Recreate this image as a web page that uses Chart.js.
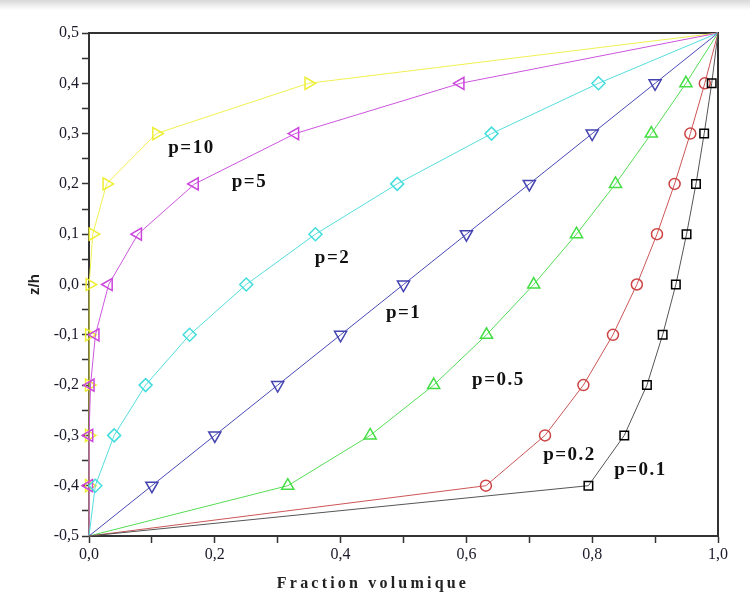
<!DOCTYPE html>
<html>
<head>
<meta charset="utf-8">
<script src="https://cdn.jsdelivr.net/npm/chart.js@4/dist/chart.umd.min.js"></script>
<style>
  body { margin: 0; background: #fff; }
  #wrap { position: relative; width: 750px; height: 610px; }
  #shade { position: absolute; left: 0; top: 0; width: 750px; height: 10px;
           background: linear-gradient(#d8d8d8, #ffffff); }
</style>
</head>
<body>
<div id="wrap">
  <div id="shade"></div>
  <canvas id="myChart" width="750" height="610"></canvas>
</div>
<script>
// Données : z/h et fraction volumique pour chaque p
const zh = [-0.5, -0.4, -0.3, -0.2, -0.1, 0.0, 0.1, 0.2, 0.3, 0.4, 0.5];
const v01 = [0, 0.794, 0.851, 0.887, 0.912, 0.933, 0.950, 0.965, 0.978, 0.990, 1];
const v02 = [0, 0.631, 0.725, 0.786, 0.833, 0.871, 0.903, 0.931, 0.956, 0.979, 1];
const v05 = [0, 0.316, 0.447, 0.548, 0.632, 0.707, 0.775, 0.837, 0.894, 0.949, 1];
const v1  = [0, 0.1, 0.2, 0.3, 0.4, 0.5, 0.6, 0.7, 0.8, 0.9, 1];
const v2  = [0, 0.01, 0.04, 0.09, 0.16, 0.25, 0.36, 0.49, 0.64, 0.81, 1];
const v5  = [0, 0.00001, 0.00032, 0.00243, 0.01024, 0.03125, 0.07776, 0.16807, 0.32768, 0.59049, 1];
const v10 = [0, 0, 0, 0.00001, 0.0001, 0.001, 0.006, 0.028, 0.107, 0.349, 1];

// Étiquettes des courbes (texte et position en coordonnées des données)
const curveLabels = ['p=10', 'p=5', 'p=2', 'p=1', 'p=0.5', 'p=0.2', 'p=0.1'];
const labelX = [0.126, 0.227, 0.359, 0.472, 0.609, 0.722, 0.835];
const labelY = [0.271, 0.204, 0.053, -0.057, -0.19, -0.339, -0.369];

const xTitle = 'Fraction volumique';
const yTitle = 'z/h';

function toPoints(values) {
    return values.map((v, i) => ({ x: v, y: zh[i] }));
}

function radii(r) {
    return zh.map((z, i) => (i === 0 || i === zh.length - 1 ? 0 : r));
}

function makeSet(label, values, color, lineColor, style, rotation, r) {
    return {
        label: label,
        data: toPoints(values),
        borderColor: lineColor,
        borderWidth: 1,
        pointBorderColor: color,
        pointBackgroundColor: 'rgba(255,255,255,0)',
        pointBorderWidth: 1.5,
        pointStyle: style,
        pointRotation: rotation,
        pointRadius: radii(r),
        tension: 0,
        clip: false,
    };
}

const datasets = [
    makeSet('p=0.1', v01, '#000000', '#555555', 'rect', 0, 6),
    makeSet('p=0.2', v02, '#cc4444', '#cc5555', 'circle', 0, 5.5),
    makeSet('p=0.5', v05, '#44dd44', '#55dd55', 'triangle', 0, 7),
    makeSet('p=1', v1, '#4444b0', '#4a4ab8', 'triangle', 180, 7),
    makeSet('p=2', v2, '#44dddd', '#55dddd', 'rectRot', 0, 6.5),
    makeSet('p=5', v5, '#cc44dd', '#cc55dd', 'triangle', 270, 7),
    makeSet('p=10', v10, '#eeee33', '#f0f050', 'triangle', 90, 7),
];

function comma(v) {
    return Number(v).toFixed(1).replace('.', ',');
}

// Cadre, étiquettes des courbes et titre de l'axe x
const decorPlugin = {
    id: 'decor',
    beforeDatasetsDraw(chart) {
        const { ctx, chartArea } = chart;
        ctx.save();
        ctx.strokeStyle = '#333';
        ctx.lineWidth = 2;
        ctx.strokeRect(chartArea.left, chartArea.top, chartArea.right - chartArea.left, chartArea.bottom - chartArea.top);
        ctx.restore();
    },
    afterDraw(chart) {
        const { ctx, scales } = chart;
        ctx.save();
        ctx.fillStyle = '#111';
        ctx.font = 'bold 19px "Liberation Serif"';
        ctx.textBaseline = 'middle';
        ctx.textAlign = 'left';
        ctx.letterSpacing = '1.5px';
        curveLabels.forEach((t, i) => {
            ctx.fillText(t, scales.x.getPixelForValue(labelX[i]), scales.y.getPixelForValue(labelY[i]));
        });
        ctx.font = 'bold 16px "Liberation Serif"';
        ctx.letterSpacing = '3.2px';
        ctx.textAlign = 'center';
        ctx.fillStyle = '#222';
        ctx.fillText(xTitle, 373, 584);
        ctx.restore();
    },
};

const ctx = document.getElementById('myChart').getContext('2d');
const myChart = new Chart(ctx, {
    type: 'line',
    data: { datasets: datasets },
    plugins: [decorPlugin],
    options: {
        responsive: false,
        animation: false,
        layout: { padding: { left: 0, top: 33, right: 32, bottom: 0 } },
        plugins: {
            legend: { display: false },
            tooltip: { enabled: false },
        },
        scales: {
            x: {
                type: 'linear',
                min: 0,
                max: 1,
                afterFit: (scale) => { scale.height = 74; },
                border: { color: '#333', width: 2 },
                grid: { drawOnChartArea: false, drawTicks: true, tickLength: 7, tickColor: '#333', tickWidth: 1.5 },
                ticks: {
                    stepSize: 0.1,
                    autoSkip: false,
                    maxRotation: 0,
                    padding: 2,
                    color: '#1a1a2a',
                    font: { family: 'Liberation Serif', size: 16 },
                    callback: (v, i) => (i % 2 === 0 ? comma(v) : ''),
                },
            },
            y: {
                type: 'linear',
                min: -0.5,
                max: 0.5,
                afterFit: (scale) => { scale.width = 89; },
                border: { color: '#333', width: 2 },
                title: {
                    display: true,
                    text: yTitle,
                    color: '#222',
                    font: { family: 'Liberation Sans', size: 15, weight: 'bold' },
                    padding: { top: 26, bottom: 0 },
                },
                grid: { drawOnChartArea: false, drawTicks: true, tickLength: 7, tickColor: '#333', tickWidth: 1.5 },
                ticks: {
                    stepSize: 0.05,
                    autoSkip: false,
                    padding: 3,
                    color: '#1a1a2a',
                    font: { family: 'Liberation Serif', size: 16 },
                    callback: (v, i) => (i % 2 === 0 ? comma(v) : ''),
                },
            },
        },
    },
});
</script>
</body>
</html>
